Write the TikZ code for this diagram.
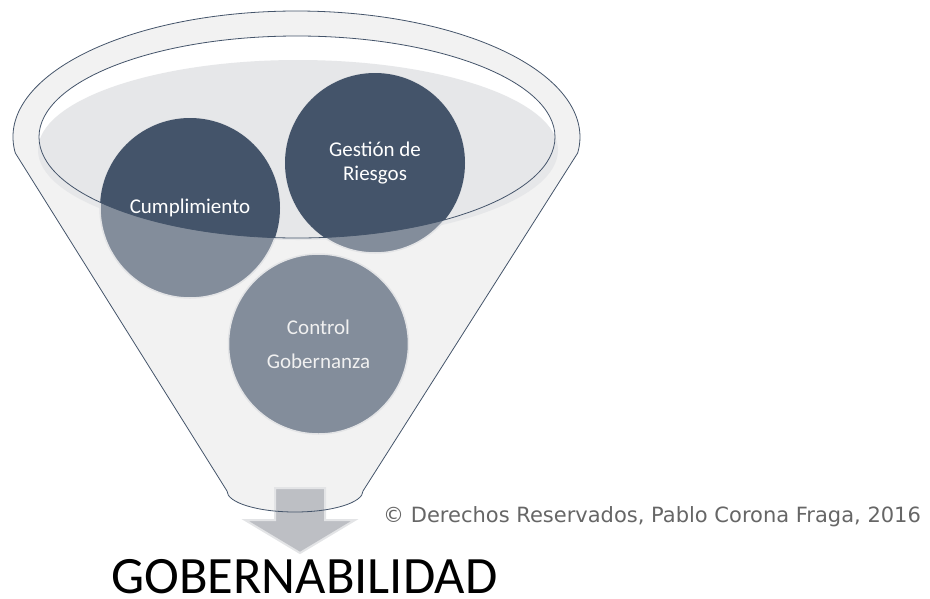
\documentclass[tikz,border=0pt]{standalone}
\usepackage{fontspec}
\setmainfont{Carlito}
\newfontfamily\copyfont{DejaVu Sans}
\definecolor{slate}{HTML}{44546A}
\definecolor{paleslate}{HTML}{838D9B}
\definecolor{funnelgray}{HTML}{F2F2F2}
\definecolor{surface}{HTML}{E6E7E9}
\definecolor{rim}{HTML}{E3E4E6}
\definecolor{arrowgray}{HTML}{BDBFC4}
\definecolor{copygray}{HTML}{666666}
\begin{document}
\begin{tikzpicture}[x=1pt, y=-1pt,
    ball/.style={circle, fill=paleslate, draw=rim, line width=1.5pt, minimum size=180pt, inner sep=0pt},
    lbl/.style={align=center, font=\fontsize{21}{24}\selectfont, inner sep=0pt}]
  \useasboundingbox (0,0) rectangle (930,598);

  \fill[funnelgray] (15.3,153) arc[start angle=172.7, end angle=367.3, x radius=283.5, y radius=126]
    -- (363,491) arc[start angle=0, end angle=180, x radius=68, y radius=21] -- cycle;
  \fill[white] (297,137) ellipse[x radius=258, y radius=101];
  \fill[surface] (298,150) ellipse[x radius=260, y radius=90];

  \node[ball] (cump) at (190,208) {};
  \node[ball] (riesgo) at (375,163) {};
  \node[ball] (control) at (318.5,344) {};
  \begin{scope}
    \clip (297,137) ellipse[x radius=258, y radius=101];
    \fill[slate] (cump.center) circle[radius=90];
    \fill[slate] (riesgo.center) circle[radius=90];
  \end{scope}

  \path[fill=arrowgray, draw=rim, line width=2pt] (275,488) -- (325,488) -- (325,520) -- (355,520)
    -- (300,553) -- (245,520) -- (275,520) -- cycle;

  \draw[slate, line width=0.8pt] (15.3,153) arc[start angle=172.7, end angle=367.3, x radius=283.5, y radius=126]
    -- (363,491) arc[start angle=0, end angle=180, x radius=68, y radius=21] -- cycle;
  \draw[slate, line width=0.8pt] (297,137) ellipse[x radius=258, y radius=101];

  \node[lbl, text=white] (cumptxt) at (cump) {Cumplimiento};
  \node[lbl, text=white] (riesgotxt) at (riesgo) {Gestión de\\Riesgos};
  \node[lbl, text=black!6] (controltxt) at (control) {Control\\[10pt]Gobernanza};
  \node[anchor=base west, inner sep=0pt, font=\fontsize{52.5}{52}\selectfont] (gob) at (111,593) {GOBERNABILIDAD};
  \node[anchor=base west, inner sep=0pt, text=copygray, font=\copyfont\fontsize{21}{24}\selectfont] (copy) at (383,522)
    {© Derechos Reservados, Pablo Corona Fraga, 2016};
\end{tikzpicture}
\end{document}
